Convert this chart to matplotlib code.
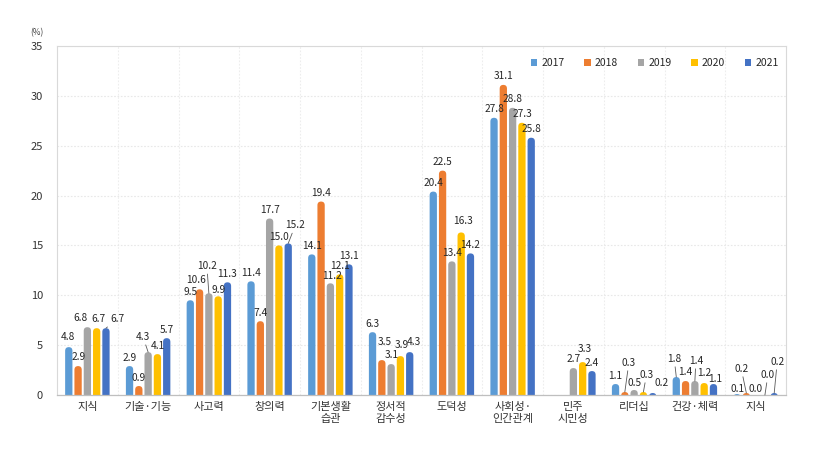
import numpy as np
import matplotlib
matplotlib.use('Agg')
import matplotlib.pyplot as plt
from matplotlib.patches import FancyBboxPatch, Patch

plt.rcParams['font.family'] = ['Noto Sans CJK KR', 'DejaVu Sans']

# ---------------- data ----------------
categories = ['지식', '기술·기능', '사고력', '창의력', '기본생활\n습관', '정서적\n감수성',
              '도덕성', '사회성·\n인간관계', '민주\n시민성', '리더십', '건강·체력', '지식']
years = ['2017', '2018', '2019', '2020', '2021']
nan = np.nan
v2017 = [4.8, 2.9, 9.5, 11.4, 14.1, 6.3, 20.4, 27.8, nan, 1.1, 1.8, 0.1]
v2018 = [2.9, 0.9, 10.6, 7.4, 19.4, 3.5, 22.5, 31.1, nan, 0.3, 1.4, 0.2]
v2019 = [6.8, 4.3, 10.2, 17.7, 11.2, 3.1, 13.4, 28.8, 2.7, 0.5, 1.4, 0.0]
v2020 = [6.7, 4.1, 9.9, 15.0, 12.1, 3.9, 16.3, 27.3, 3.3, 0.3, 1.2, 0.0]
v2021 = [6.7, 5.7, 11.3, 15.2, 13.1, 4.3, 14.2, 25.8, 2.4, 0.2, 1.1, 0.2]
series = [v2017, v2018, v2019, v2020, v2021]
yticks = [0, 5, 10, 15, 20, 25, 30, 35]

# ---------------- styles ----------------
colors = ['#5B9BD5', '#ED7D31', '#A5A5A5', '#FFC000', '#4472C4']
# label placement (series, category): (dx px, dy px up, leader line)
label_offsets = {
    (0, 0): (-1, 10, False), (1, 0): (1, 9, False), (2, 0): (-7, 9, False),
    (3, 0): (2, 9, False), (4, 0): (11, 9, True),
    (2, 1): (-5, 15, True),
    (1, 2): (-3.5, 9, False), (2, 2): (-2, 27, True), (3, 2): (0, 6, False),
    (4, 3): (7, 18, True),
    (2, 4): (2, 7.5, False),
    (1, 5): (3, 18, False), (2, 5): (1, 9, False), (3, 5): (1, 11, False),
    (4, 5): (4, 10, False),
    (3, 6): (2, 11, False),
    (2, 8): (0, 9, False), (3, 8): (2, 13, False),
    (1, 9): (4, 29, True), (2, 9): (0, 7, False), (3, 9): (3, 17, True), (4, 9): (9, 10, False),
    (0, 10): (-2, 18, True), (1, 10): (0, 9, False), (2, 10): (1, 20, True),
    (3, 10): (0, 10, False), (4, 10): (2, 5, False),
    (0, 11): (1, 5, False), (1, 11): (-5, 24, True), (2, 11): (0, 6, False),
    (3, 11): (3, 20, True), (4, 11): (3, 31, True),
}
default_offset = (0, 8.5, False)

W, H = 815, 455
fig = plt.figure(figsize=(W / 100, H / 100), dpi=100)
ax = fig.add_axes([57 / W, 1 - 395 / H, 729 / W, 349 / H])
ax.set_xlim(-0.5, len(categories) - 0.5)
ax.set_ylim(0, 35)

x = np.arange(len(categories))
n = len(series)
step = 0.153
width = 0.12

px_x = ax.transData.transform((1, 0))[0] - ax.transData.transform((0, 0))[0]
px_y = ax.transData.transform((0, 1))[1] - ax.transData.transform((0, 0))[1]
r_px = width * px_x / 2
rx = r_px / px_x
ry = r_px / px_y

for j, (vals, col) in enumerate(zip(series, colors)):
    xs = x + (j - (n - 1) / 2) * step
    bars = ax.bar(xs, vals, width=width, color=col, zorder=2)
    for b in bars:
        h = b.get_height()
        b.set_visible(False)
        if np.isnan(h):
            continue
        p = FancyBboxPatch((b.get_x(), -2 * ry), b.get_width(), h + 2 * ry,
                           boxstyle=f"round,pad=0,rounding_size={rx}",
                           mutation_aspect=ry / rx, fc=col, ec='none', zorder=2)
        ax.add_patch(p)
    for i, v in enumerate(vals):
        if np.isnan(v):
            continue
        dx, dy, lead = label_offsets.get((j, i), default_offset)
        kw = {}
        if lead:
            kw['arrowprops'] = dict(arrowstyle='-', color='#595959', lw=0.6,
                                    shrinkA=0, shrinkB=0)
        ax.annotate(f'{v:.1f}', (xs[i], v), xytext=(dx, dy), textcoords='offset pixels',
                    ha='center', va='center', fontsize=7.3, color='#262626', zorder=3, **kw)

# axes styling
ax.set_xticks(x, categories)
ax.set_xticks(x[:-1] + 0.5, minor=True)
ax.set_yticks(yticks)
ax.tick_params(axis='x', which='both', length=0, pad=5, labelsize=8, labelcolor='#333333')
ax.tick_params(axis='y', length=0, pad=10, labelsize=8, labelcolor='#333333')
for t in ax.get_xticklabels():
    t.set_linespacing(1.3)
ax.set_axisbelow(True)
ax.yaxis.grid(True, color='#E8E8E8', linestyle=(0, (1.5, 1.5)), lw=0.8)
ax.xaxis.grid(True, which='minor', color='#EDEDED', linestyle=(0, (1.5, 1.5)), lw=0.8)
for s in ['top', 'left', 'right']:
    ax.spines[s].set_color('#D9D9D9')
    ax.spines[s].set_linewidth(0.8)
ax.spines['bottom'].set_color('#BFBFBF')
ax.spines['bottom'].set_linewidth(0.9)

handles = [Patch(facecolor=c, edgecolor='none') for c in colors]
ax.legend(handles, years, loc='center', bbox_to_anchor=(0.82, 0.951), ncol=5,
          frameon=False, fontsize=7.5, handlelength=0.6, handleheight=0.6,
          handletextpad=0.4, columnspacing=1.9, labelcolor='#262626')

fig.text(36.7 / W, 1 - 33 / H, '(%)', fontsize=6, ha='center', va='center', color='#404040')

fig.savefig('out.png', dpi=100)
